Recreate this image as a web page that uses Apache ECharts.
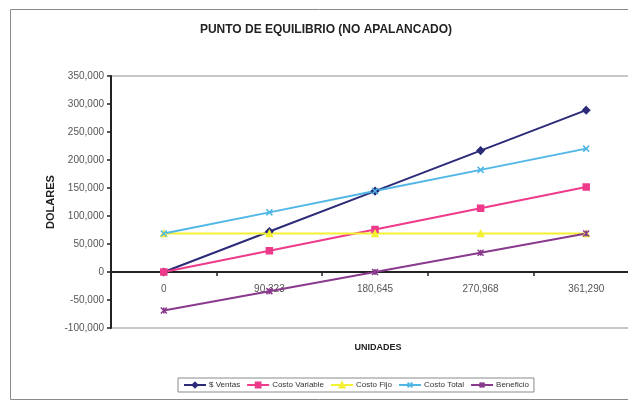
<!DOCTYPE html>
<html>
<head>
<meta charset="utf-8">
<script src="https://cdn.jsdelivr.net/npm/echarts@6/dist/echarts.min.js"></script>
<style>
html,body{margin:0;padding:0;background:#fff;}
#chart{width:628px;height:402px;}
</style>
</head>
<body>
<div id="chart"></div>
<script>
// Unidades vendidas (eje X)
const unidades = ['0', '90,323', '180,645', '270,968', '361,290'];

// Valores en dólares por serie
const ventas        = [0, 72300, 144500, 216800, 289000];
const costoVariable = [0, 37900, 75900, 113800, 151700];
const costoFijo     = [68600, 68600, 68600, 68600, 68600];
const costoTotal    = [68600, 106500, 144500, 182400, 220300];
const beneficio     = [-68600, -34200, 0, 34400, 68700];

// Rango del eje de dólares
const Y_MIN = -100000, Y_MAX = 350000, Y_STEP = 50000;

const FONT = 'Liberation Sans, Arial, sans-serif';
const crossPath = 'path://M0,0L10,10M10,0L0,10';
const starPath = 'path://M0,0L10,10M10,0L0,10M5,0L5,10';

const GRID_TOP = 76, GRID_BOTTOM = 74, CHART_H = 402;
const gridH = CHART_H - GRID_TOP - GRID_BOTTOM;
// el eje de unidades se sitúa sobre la línea del cero (con sus etiquetas)
const zeroOffset = -gridH * (0 - Y_MIN) / (Y_MAX - Y_MIN);

function serie(name, data, color, symbol, size) {
  return {
    name: name,
    type: 'line',
    data: data,
    symbol: symbol,
    symbolSize: size,
    showAllSymbol: true,
    lineStyle: { color: color, width: 2 },
    itemStyle: { color: color, borderColor: color, borderWidth: 1.5 },
    emphasis: { disabled: true },
    z: 3
  };
}

const chart = echarts.init(document.getElementById('chart'), null, { renderer: 'canvas' });
chart.setOption({
  animation: false,
  backgroundColor: '#fff',
  textStyle: { fontFamily: FONT },
  title: [{
    text: 'PUNTO DE EQUILIBRIO (NO APALANCADO)',
    left: 321, top: 19, textAlign: 'center',
    textStyle: { fontFamily: FONT, fontSize: 12, fontWeight: 'bold', color: '#222' }
  }, {
    text: 'UNIDADES',
    left: 373, top: 338, textAlign: 'center',
    textStyle: { fontFamily: FONT, fontSize: 9, fontWeight: 'bold', color: '#222' }
  }],
  graphic: [{
    type: 'rect',
    shape: { x: 10.5, y: 9.5, width: 640, height: 390 },
    style: { fill: 'none', stroke: '#8a8a8a', lineWidth: 1 },
    silent: true, z: -1
  }],
  legend: {
    left: 178, top: 378,
    itemWidth: 22, itemHeight: 6, itemGap: 6,
    padding: [3, 5],
    borderColor: '#8a8a8a', borderWidth: 1,
    textStyle: { fontFamily: FONT, fontSize: 8, color: '#333', padding: [0, 0, 0, -2] },
    data: ['$ Ventas', 'Costo Variable', 'Costo Fijo', 'Costo Total', 'Beneficio']
  },
  grid: {
    left: 111, right: -11, top: GRID_TOP, bottom: GRID_BOTTOM,
    containLabel: false,
    outerBoundsMode: 'none',
    show: true, borderColor: '#b5b5b5', borderWidth: 1.5, backgroundColor: 'transparent'
  },
  xAxis: {
    type: 'category',
    data: unidades,
    boundaryGap: true,
    offset: zeroOffset,
    axisLine: { onZero: false, lineStyle: { color: '#222', width: 2 } },
    axisTick: { show: true, inside: false, length: 4, lineStyle: { color: '#222', width: 1.5 } },
    axisLabel: { fontFamily: FONT, fontSize: 10, color: '#555', margin: 12 },
    splitLine: { show: false }
  },
  yAxis: {
    type: 'value',
    min: Y_MIN, max: Y_MAX, interval: Y_STEP,
    name: 'DOLARES',
    nameLocation: 'middle',
    nameGap: 55,
    nameRotate: 90,
    nameMoveOverlap: false,
    nameTextStyle: { fontFamily: FONT, fontSize: 11, fontWeight: 'bold', color: '#222' },
    axisLine: { show: true, lineStyle: { color: '#222', width: 2 } },
    axisTick: { show: true, length: 4, lineStyle: { color: '#222', width: 1.5 } },
    axisLabel: {
      fontFamily: FONT, fontSize: 10, color: '#555', margin: 7,
      formatter: v => v.toLocaleString('en-US')
    },
    splitLine: { show: false }
  },
  series: [
    serie('$ Ventas', ventas, '#2b2b78', 'diamond', 7),
    serie('Costo Variable', costoVariable, '#ee3a8a', 'rect', 6),
    serie('Costo Fijo', costoFijo, '#f4f032', 'triangle', 6),
    serie('Costo Total', costoTotal, '#4fb6e6', crossPath, 6),
    serie('Beneficio', beneficio, '#8a3a8c', starPath, 6)
  ]
});
</script>
</body>
</html>
